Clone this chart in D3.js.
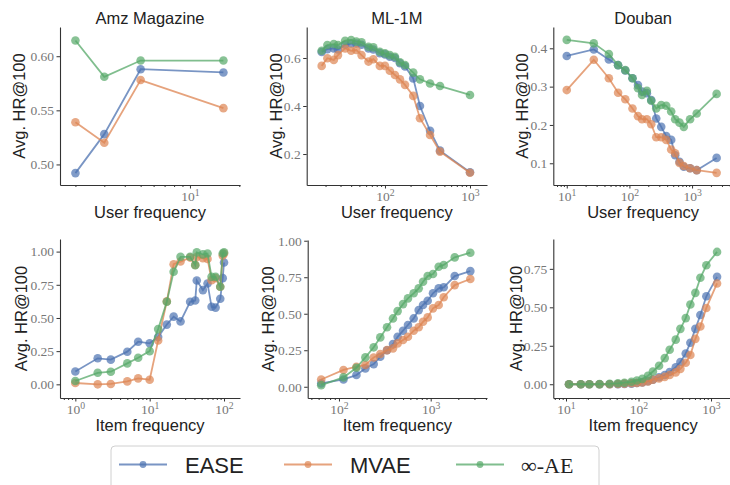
<!DOCTYPE html>
<html lang="en">
<head>
  <meta charset="utf-8">
  <title>HR@100 by frequency</title>
  <script src="https://cdn.jsdelivr.net/npm/d3@7/dist/d3.min.js"></script>
  <style>
    body { margin: 0; background: #fff; }
  </style>
</head>
<body>
  <script>
  // series order = drawing order (green on top)
  var seriesNames = ["EASE", "MVAE", "∞-AE"];
  var seriesColors = ["#4C72B0", "#DD8452", "#55A868"];

  // Amz Magazine, user frequency
  var amzUserFreq = [2, 3, 5, 16];
  var amzUserEASE = [0.492, 0.528, 0.588, 0.585];
  var amzUserMVAE = [0.539, 0.520, 0.578, 0.552];
  var amzUserAE   = [0.6145, 0.581, 0.596, 0.596];

  // ML-1M, user frequency
  var mlUserFreq = [18, 21, 25, 28, 34, 40, 46, 53, 64, 73, 87, 100, 114, 131, 150, 172, 215, 258, 339, 444, 1000];
  var mlUserEASE = [0.625, 0.637, 0.640, 0.635, 0.655, 0.660, 0.660, 0.655, 0.640, 0.635, 0.620, 0.615, 0.605, 0.600, 0.578, 0.565, 0.515, 0.400, 0.297, 0.214, 0.124];
  var mlUserMVAE = [0.567, 0.599, 0.592, 0.612, 0.640, 0.630, 0.633, 0.612, 0.585, 0.595, 0.567, 0.567, 0.547, 0.529, 0.511, 0.488, 0.442, 0.349, 0.279, 0.210, 0.122];
  var mlUserAE   = [0.630, 0.654, 0.658, 0.654, 0.672, 0.675, 0.668, 0.665, 0.647, 0.644, 0.626, 0.619, 0.612, 0.605, 0.582, 0.571, 0.539, 0.511, 0.494, 0.483, 0.446];

  // Douban, user frequency
  var dbUserFreq = [10, 27, 47, 66, 86, 112, 137, 159, 190, 223, 268, 322, 387, 464, 537, 630, 738, 929, 1186, 2466];
  var dbUserEASE = [0.380, 0.397, 0.371, 0.356, 0.342, 0.322, 0.304, 0.287, 0.283, 0.265, 0.217, 0.195, 0.171, 0.161, 0.121, 0.104, 0.091, 0.087, 0.082, 0.114];
  var dbUserMVAE = [0.291, 0.370, 0.322, 0.284, 0.267, 0.243, 0.223, 0.215, 0.215, 0.202, 0.168, 0.168, 0.161, 0.136, 0.126, 0.101, 0.093, 0.087, 0.082, 0.075];
  var dbUserAE   = [0.422, 0.413, 0.385, 0.356, 0.343, 0.322, 0.296, 0.278, 0.289, 0.263, 0.243, 0.252, 0.250, 0.235, 0.215, 0.206, 0.195, 0.215, 0.230, 0.281];

  // Amz Magazine, item frequency
  var amzItemFreq = [1, 2, 3, 5, 7, 10, 13, 17, 21, 26, 35, 41, 43, 52, 60, 68, 77, 89, 96, 100];
  var amzItemEASE = [0.097, 0.196, 0.186, 0.246, 0.321, 0.309, 0.356, 0.450, 0.510, 0.474, 0.622, 0.632, 0.782, 0.710, 0.760, 0.584, 0.578, 0.645, 0.800, 0.918];
  var amzItemMVAE = [0.010, 0.000, 0.003, 0.022, 0.045, 0.035, 0.330, 0.625, 0.905, 0.925, 0.955, 0.900, 0.960, 0.950, 0.945, 0.785, 0.800, 0.735, 0.970, 0.985];
  var amzItemAE   = [0.025, 0.087, 0.095, 0.158, 0.200, 0.250, 0.416, 0.622, 0.848, 0.961, 0.961, 0.898, 0.994, 0.979, 0.986, 0.810, 0.810, 0.735, 0.986, 0.994];

  // ML-1M, item frequency
  var mlItemFreq = [64, 112, 155, 194, 239, 282, 334, 388, 436, 499, 565, 652, 740, 825, 927, 1059, 1222, 1386, 1827, 2704];
  var mlItemEASE = [0.023, 0.050, 0.080, 0.126, 0.155, 0.205, 0.250, 0.292, 0.342, 0.384, 0.423, 0.468, 0.525, 0.560, 0.589, 0.640, 0.674, 0.681, 0.758, 0.792];
  var mlItemMVAE = [0.050, 0.115, 0.137, 0.149, 0.200, 0.224, 0.251, 0.263, 0.297, 0.320, 0.342, 0.384, 0.407, 0.445, 0.475, 0.537, 0.560, 0.613, 0.696, 0.738];
  var mlItemAE   = [0.011, 0.064, 0.130, 0.201, 0.270, 0.338, 0.407, 0.468, 0.518, 0.566, 0.605, 0.640, 0.674, 0.719, 0.758, 0.772, 0.822, 0.834, 0.886, 0.918];

  // Douban, item frequency
  var dbItemFreq = [11, 16, 21, 29, 40, 52, 64, 80, 95, 113, 135, 158, 192, 230, 269, 326, 378, 448, 519, 608, 713, 862, 1211];
  var dbItemEASE = [0, 0, 0, 0, 0, 0, 0.002, 0.004, 0.008, 0.012, 0.020, 0.030, 0.045, 0.060, 0.080, 0.110, 0.145, 0.200, 0.270, 0.360, 0.450, 0.572, 0.698];
  var dbItemMVAE = [0, 0, 0, 0, 0, 0.002, 0.004, 0.006, 0.008, 0.012, 0.018, 0.030, 0.038, 0.048, 0.060, 0.077, 0.100, 0.140, 0.190, 0.295, 0.375, 0.496, 0.655];
  var dbItemAE   = [0, 0, 0, 0.001, 0.003, 0.006, 0.010, 0.016, 0.024, 0.035, 0.055, 0.083, 0.120, 0.170, 0.224, 0.290, 0.360, 0.430, 0.518, 0.594, 0.692, 0.773, 0.860];

  // ticks
  var amzUserYTicks = [0.50, 0.55, 0.60];
  var mlUserYTicks = [0.2, 0.4, 0.6];
  var dbUserYTicks = [0.1, 0.2, 0.3, 0.4];
  var amzItemYTicks = [0.00, 0.25, 0.50, 0.75, 1.00];
  var mlItemYTicks = [0.00, 0.25, 0.50, 0.75, 1.00];
  var dbItemYTicks = [0.00, 0.25, 0.50, 0.75];

  var titles = ["Amz Magazine", "ML-1M", "Douban"];
  var yLabel = "Avg. HR@100";

  // panel layout (pixel boxes + domains)
  var panels = [
    { title: titles[0], xl: "User frequency", x: amzUserFreq, ys: [amzUserEASE, amzUserMVAE, amzUserAE],
      box: [60, 240, 27, 185], xd: [1.61, 20.2], yd: [0.481, 0.627], yt: amzUserYTicks, yf: ".2f", xt: [10], lab: 35 },
    { title: titles[1], xl: "User frequency", x: mlUserFreq, ys: [mlUserEASE, mlUserMVAE, mlUserAE],
      box: [306.7, 487, 27, 185], xd: [12.0, 1585], yd: [0.071, 0.729], yt: mlUserYTicks, yf: ".1f", xt: [100, 1000], lab: 25 },
    { title: titles[2], xl: "User frequency", x: dbUserFreq, ys: [dbUserEASE, dbUserMVAE, dbUserAE],
      box: [553.3, 733, 27, 185], xd: [6.1, 4500], yd: [0.0433, 0.4556], yt: dbUserYTicks, yf: ".1f", xt: [10, 100, 1000], lab: 25 },
    { title: null, xl: "Item frequency", x: amzItemFreq, ys: [amzItemEASE, amzItemMVAE, amzItemAE],
      box: [60, 240, 239, 398], xd: [0.622, 164], yd: [-0.103, 1.095], yt: amzItemYTicks, yf: ".2f", xt: [1, 10, 100], lab: 33 },
    { title: null, xl: "Item frequency", x: mlItemFreq, ys: [mlItemEASE, mlItemMVAE, mlItemAE],
      box: [307.7, 487, 240, 398], xd: [45.6, 4110], yd: [-0.077, 1.005], yt: mlItemYTicks, yf: ".2f", xt: [100, 1000], lab: 34 },
    { title: null, xl: "Item frequency", x: dbItemFreq, ys: [dbItemEASE, dbItemMVAE, dbItemAE],
      box: [553.3, 733, 239, 398], xd: [6.68, 2009], yd: [-0.0894, 0.944], yt: dbItemYTicks, yf: ".2f", xt: [10, 100, 1000], lab: 31 }
  ];

  var sans = "'Liberation Sans', Arial, sans-serif";
  var serif = "'Liberation Serif', 'DejaVu Serif', serif";

  var svg = d3.select("body").append("svg")
    .attr("width", 730).attr("height", 485);

  panels.forEach(function(p) {
    var x = d3.scaleLog().domain(p.xd).range([p.box[0], p.box[1]]);
    var y = d3.scaleLinear().domain(p.yd).range([p.box[3], p.box[2]]);
    var g = svg.append("g");

    // minor ticks
    var minors = [];
    for (var e = -1; e < 5; e++) {
      for (var m = 2; m < 10; m++) {
        var v = m * Math.pow(10, e);
        if (v > p.xd[0] && v < p.xd[1]) minors.push(v);
      }
    }
    g.append("g")
      .attr("transform", "translate(0," + p.box[3] + ")")
      .attr("color", "#333")
      .call(d3.axisBottom(x).tickValues(minors).tickSize(2).tickSizeOuter(0).tickFormat(""))
      .call(function(s) { s.select(".domain").remove(); });

    var xa = g.append("g")
      .attr("transform", "translate(0," + p.box[3] + ")")
      .attr("color", "#333")
      .call(d3.axisBottom(x).tickValues(p.xt).tickSize(3.5).tickSizeOuter(0).tickPadding(4));
    xa.select(".domain").attr("stroke-width", 1.1);
    xa.selectAll(".tick text").each(function(d) {
      var t = d3.select(this);
      t.text(null).attr("dy", null).attr("y", 15.5)
        .attr("font-family", serif).attr("font-size", 13.5).attr("fill", "#777");
      t.append("tspan").text("10");
      t.append("tspan").attr("dy", "-0.5em").attr("font-size", "0.72em").text(Math.round(Math.log10(d)));
    });

    var ya = g.append("g")
      .attr("transform", "translate(" + p.box[0] + ",0)")
      .attr("color", "#333")
      .call(d3.axisLeft(y).tickValues(p.yt).tickSize(3.5).tickSizeOuter(0).tickPadding(2.5).tickFormat(d3.format(p.yf)));
    ya.select(".domain").attr("stroke-width", 1.1);
    ya.selectAll(".tick text")
      .attr("font-family", serif).attr("font-size", 13.5).attr("fill", "#777");

    // series
    p.ys.forEach(function(vals, i) {
      var pts = p.x.map(function(xv, k) { return [xv, vals[k]]; });
      var sg = g.append("g");
      sg.append("path")
        .datum(pts)
        .attr("fill", "none")
        .attr("stroke", seriesColors[i])
        .attr("stroke-opacity", 0.75)
        .attr("stroke-width", 1.8)
        .attr("d", d3.line().x(function(d) { return x(d[0]); }).y(function(d) { return y(d[1]); }));
      sg.selectAll("circle")
        .data(pts)
        .enter().append("circle")
        .attr("cx", function(d) { return x(d[0]); })
        .attr("cy", function(d) { return y(d[1]); })
        .attr("r", 4.3)
        .attr("fill", seriesColors[i])
        .attr("fill-opacity", 0.7);
    });

    var cx = (p.box[0] + p.box[1]) / 2;
    var cy = (p.box[2] + p.box[3]) / 2;
    if (p.title) {
      g.append("text").attr("x", cx).attr("y", 24)
        .attr("text-anchor", "middle").attr("font-family", sans).attr("font-size", 16.5)
        .attr("fill", "#222").text(p.title);
    }
    g.append("text").attr("x", cx).attr("y", p.box[3] + 33)
      .attr("text-anchor", "middle").attr("font-family", sans).attr("font-size", 16.5)
      .attr("fill", "#222").text(p.xl);
    g.append("text")
      .attr("transform", "translate(" + (p.box[0] - p.lab) + "," + cy + ") rotate(-90)")
      .attr("text-anchor", "middle").attr("font-family", sans).attr("font-size", 16.5)
      .attr("fill", "#222").text(yLabel);
  });

  // legend
  var leg = svg.append("g");
  leg.append("rect")
    .attr("x", 111).attr("y", 446).attr("width", 488).attr("height", 60)
    .attr("rx", 4).attr("fill", "#fff").attr("stroke", "#d0d0d0").attr("stroke-width", 1);
  var legX = [119, 284, 456];
  seriesNames.forEach(function(name, i) {
    var lx = legX[i];
    leg.append("line")
      .attr("x1", lx).attr("x2", lx + 48).attr("y1", 464.5).attr("y2", 464.5)
      .attr("stroke", seriesColors[i]).attr("stroke-opacity", 0.75).attr("stroke-width", 1.8);
    leg.append("circle")
      .attr("cx", lx + 24).attr("cy", 464.5).attr("r", 3.4)
      .attr("fill", seriesColors[i]).attr("fill-opacity", 0.7);
    leg.append("text")
      .attr("x", lx + (i === 2 ? 65 : 66)).attr("y", 473)
      .attr("font-family", i === 2 ? serif : sans)
      .attr("font-size", 22)
      .attr("fill", "#222")
      .text(name);
  });
  </script>
</body>
</html>
